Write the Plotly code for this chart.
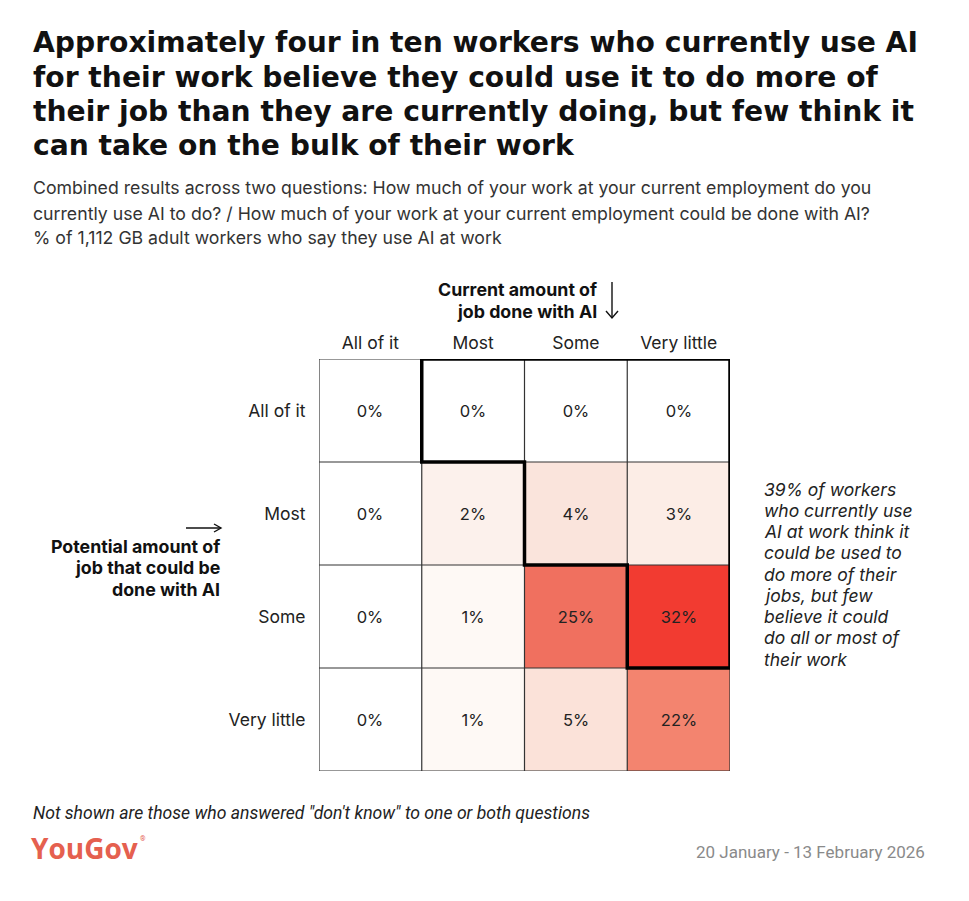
import plotly.graph_objects as go

W, H = 969, 901

# ---------------- data ----------------
current_cats = ["All of it", "Most", "Some", "Very little"]      # columns: current amount done with AI
potential_cats = ["All of it", "Most", "Some", "Very little"]    # rows: potential amount
values = [
    [0, 0, 0, 0],
    [0, 2, 4, 3],
    [0, 1, 25, 32],
    [0, 1, 5, 22],
]

title_lines = [
    "Approximately four in ten workers who currently use AI",
    "for their work believe they could use it to do more of",
    "their job than they are currently doing, but few think it",
    "can take on the bulk of their work",
]
subtitle_lines = [
    "Combined results across two questions: How much of your work at your current employment do you",
    "currently use AI to do? / How much of your work at your current employment could be done with AI?",
    "% of 1,112 GB adult workers who say they use AI at work",
]
callout_lines = [
    "39% of workers", "who currently use", "AI at work think it", "could be used to",
    "do more of their", "jobs, but few", "believe it could", "do all or most of", "their work",
]
footnote = 'Not shown are those who answered "don\'t know" to one or both questions'
date_text = "20 January - 13 February 2026"

# ---------------- helpers ----------------
def px(x):
    return x / W

def py(y):
    return 1 - y / H

vmax = 32
stops = [(0, "#FFFFFF"), (1, "#FEF9F5"), (2, "#FCF1EC"), (3, "#FCEDE6"), (4, "#FAE4DC"),
         (5, "#FBE2D9"), (22, "#F3846F"), (25, "#F0705F"), (32, "#F23B31")]
colorscale = [[v / vmax, c] for v, c in stops]

text = [[f"{v}%" for v in row] for row in values]
nx, ny = len(current_cats), len(potential_cats)

GEO = "Inter, Lato, sans-serif"

fig = go.Figure(go.Heatmap(
    z=values,
    x=list(range(nx)),
    y=list(range(ny)),
    text=text,
    texttemplate="%{text}",
    textfont=dict(family=GEO, size=16.5, color="#222"),
    colorscale=colorscale, zmin=0, zmax=vmax,
    showscale=False, hoverinfo="skip",
))

shapes = []
# thin grid lines
for i in range(nx + 1):
    shapes.append(dict(type="line", xref="x", yref="y", x0=i - 0.5, x1=i - 0.5,
                       y0=-0.5, y1=ny - 0.5, line=dict(color="#333", width=1.2)))
for j in range(ny + 1):
    shapes.append(dict(type="line", xref="x", yref="y", y0=j - 0.5, y1=j - 0.5,
                       x0=-0.5, x1=nx - 0.5, line=dict(color="#333", width=1.2)))
# thick outline of "could do more" region
shapes.append(dict(type="path", xref="x", yref="y",
                   path="M 0.5,-0.5 L 3.5,-0.5 L 3.5,2.5 L 2.5,2.5 L 2.5,1.5 L 1.5,1.5 L 1.5,0.5 L 0.5,0.5 Z",
                   line=dict(color="#000", width=3.5)))
shapes.append(dict(type="line", xref="x", yref="y", x0=3.5, x1=3.7, y0=1.03, y1=1.03,
                   line=dict(color="#000", width=3.5)))
# arrows next to axis titles
shapes += [
    dict(type="line", xref="paper", yref="paper", x0=px(612), x1=px(612), y0=py(282), y1=py(318),
         line=dict(color="#111", width=1.4)),
    dict(type="path", xref="paper", yref="paper",
         path=f"M {px(606)},{py(311)} L {px(612)},{py(318)} L {px(618)},{py(311)}",
         line=dict(color="#111", width=1.4)),
    dict(type="line", xref="paper", yref="paper", x0=px(186), x1=px(221), y0=py(528), y1=py(528),
         line=dict(color="#111", width=1.4)),
    dict(type="path", xref="paper", yref="paper",
         path=f"M {px(214)},{py(524)} L {px(221)},{py(528)} L {px(214)},{py(532)}",
         line=dict(color="#111", width=1.4)),
]

ann = []
def add(txt, x, y, size, color="#222", family="Roboto, sans-serif", xanchor="left", yanchor="middle", pad=1):
    ann.append(dict(text=txt, x=px(x), y=py(y), xref="paper", yref="paper", showarrow=False,
                    xanchor=xanchor, yanchor=yanchor, borderpad=pad,
                    font=dict(family=family, size=size, color=color)))

for i, t in enumerate(title_lines):
    add(f"<b>{t}</b>", 31, 43 + i * 34.3, 28.2, color="#111", family="DejaVu Sans, sans-serif")
for i, t in enumerate(subtitle_lines):
    add(t, 31, 188 + i * 25, 17.7, color="#333", family=GEO)

add("<b>Current amount of</b>", 599, 290, 17.8, color="#111", family=GEO, xanchor="right")
add("<b>job done with AI</b>", 599, 311, 17.8, color="#111", family=GEO, xanchor="right")
for i, t in enumerate(["Potential amount of", "job that could be", "done with AI"]):
    add(f"<b>{t}</b>", 222, 546 + i * 21.5, 17.8, color="#111", family=GEO, xanchor="right")
for i, t in enumerate(callout_lines):
    add(f"<i>{t}</i>", 762, 489 + i * 21.25, 17.5, color="#222", family=GEO)

add(f"<i>{footnote}</i>", 31, 813, 17.6, color="#222")
add("<b>YouGov</b>", 30, 848, 28, color="#E5604F", family="Open Sans, sans-serif", pad=0)
add("®", 139, 839, 7, color="#E5604F", pad=0)
add(date_text, 927, 852, 17, color="#8a8a8a", xanchor="right")

fig.update_layout(
    width=W, height=H,
    margin=dict(l=0, r=0, t=0, b=0),
    paper_bgcolor="white", plot_bgcolor="white",
    shapes=shapes, annotations=ann,
    xaxis=dict(domain=[px(319), px(730)], range=[-0.5, nx - 0.5], side="top",
               tickvals=list(range(nx)), ticktext=current_cats,
               tickfont=dict(family=GEO, size=17.5, color="#222"),
               ticks="outside", ticklen=2, tickcolor="rgba(0,0,0,0)",
               showgrid=False, zeroline=False, showline=False, fixedrange=True),
    yaxis=dict(domain=[py(771), py(359)], range=[ny - 0.5, -0.5],
               tickvals=list(range(ny)), ticktext=potential_cats,
               tickfont=dict(family=GEO, size=17.5, color="#222"),
               ticks="outside", ticklen=9, tickcolor="rgba(0,0,0,0)",
               showgrid=False, zeroline=False, showline=False, fixedrange=True),
)

fig.write_html("out.html", config={"displayModeBar": False})
